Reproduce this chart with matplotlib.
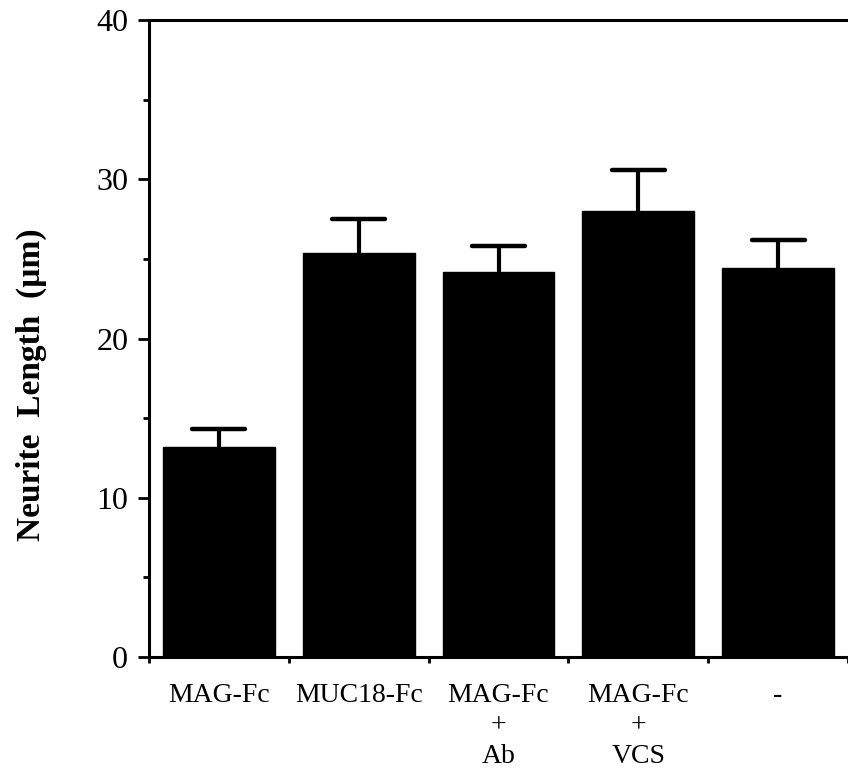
import matplotlib
matplotlib.use("Agg")
import matplotlib.pyplot as plt
import numpy as np

# values
labels = ["MAG-Fc", "MUC18-Fc", "MAG-Fc\n+\nAb", "MAG-Fc\n+\nVCS", "-"]
means = [13.2, 25.4, 24.2, 28.0, 24.4]
errs = [1.1, 2.1, 1.6, 2.6, 1.8]
yticks = [0, 10, 20, 30, 40]

plt.rcParams["font.family"] = ["Liberation Serif", "DejaVu Serif"]

fig = plt.figure(figsize=(8.48, 7.71), dpi=100)
ax = fig.add_axes([149 / 848, 1 - 657 / 771, 1 - 149 / 848, (657 - 20) / 771])

x = np.arange(len(labels))
means = np.array(means)
errs = np.array(errs)
ax.bar(x, means, width=0.8, color="black", edgecolor="black", zorder=2)
# upper-only error bars with caps
ax.vlines(x, means, means + errs, color="black", lw=3, zorder=1)
ax.hlines(means + errs, x - 0.19, x + 0.19, color="black", lw=3.2,
          capstyle="round", zorder=1)

ax.set_xlim(-0.5, 4.45)
ax.set_ylim(0, 40)
ax.set_yticks(yticks)
ax.set_yticks(np.arange(5, 40, 10), minor=True)
ax.tick_params(axis="y", which="major", direction="out", length=8, width=2,
               labelsize=23, pad=7)
ax.tick_params(axis="y", which="minor", direction="out", length=4.5, width=2)

ax.set_xticks(x)
ax.set_xticklabels(labels, fontsize=20, linespacing=1.27, va="top")
ax.set_xticks(np.arange(-0.5, 4.6, 1.0), minor=True)
ax.tick_params(axis="x", which="major", length=0, pad=19)
ax.tick_params(axis="x", which="minor", direction="out", length=4, width=2)

for side in ["left", "bottom", "top"]:
    ax.spines[side].set_linewidth(2.2)
ax.spines["right"].set_visible(False)

fig.text(31 / 848, 1 - 385 / 771, "Neurite  Length  (µm)", rotation=90,
         ha="center", va="center", fontsize=24, fontweight="bold")

fig.savefig("out.png", dpi=100)
